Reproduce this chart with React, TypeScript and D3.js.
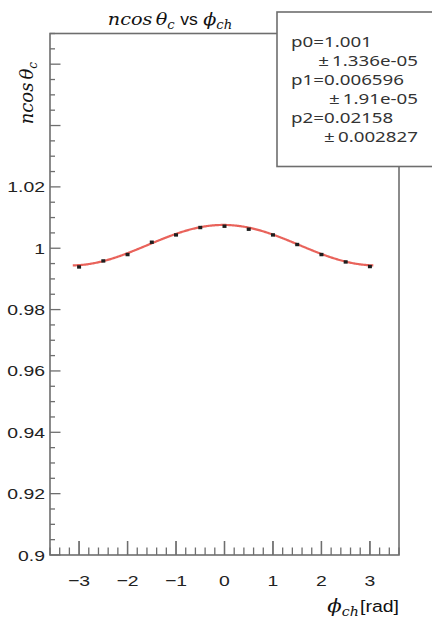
import React from "react";
import * as d3 from "d3";

// ---- data ----
const phiValues = [-3, -2.5, -2, -1.5, -1, -0.5, 0, 0.5, 1, 1.5, 2, 2.5, 3];
const ncosValues = [
  0.9939, 0.99586, 0.99794, 1.00196, 1.00434, 1.00675, 1.00718, 1.0062,
  1.00434, 1.00121, 0.99794, 0.99553, 0.99403,
];
const xTickValues = [-3, -2, -1, 0, 1, 2, 3];
const xTickLabels = ["\u22123", "\u22122", "\u22121", "0", "1", "2", "3"];
const yTickValues = [0.9, 0.92, 0.94, 0.96, 0.98, 1.0, 1.02, 1.04, 1.06];
const yTickLabels = ["0.9", "0.92", "0.94", "0.96", "0.98", "1", "1.02", "", ""];
const fitParams = [1.001, 0.006596, 0.02158];
const statLines = [
  { text: "p0=1.001", right: false },
  { text: "\u00b1\u20091.336e-05", right: true },
  { text: "p1=0.006596", right: false },
  { text: "\u00b1\u20091.91e-05", right: true },
  { text: "p2=0.02158", right: false },
  { text: "\u00b1\u20090.002827", right: true },
];
const xDomain: [number, number] = [-3.6, 3.6];
const yDomain: [number, number] = [0.9, 1.07];
const fitRange: [number, number] = [-3.13, 3.08];

const W = 432;
const H = 624;
const L = 50;
const R = 399;
const T = 33.5;
const B = 555;
const SX = 1.25; // horizontal stretch seen in the reference text

export default function App() {
  const x = d3.scaleLinear().domain(xDomain).range([L, R]);
  const y = d3.scaleLinear().domain(yDomain).range([B, T]);

  const xMinor = d3.range(-3.6, 3.6001, 0.2).map((v) => +v.toFixed(2));
  const yMinor = d3.range(0.9, 1.0701, 0.005).map((v) => +v.toFixed(3));

  const fitX = d3.range(fitRange[0], fitRange[1] + 1e-9, 0.02);
  const fitLine = d3
    .line<number>()
    .x((v) => x(v))
    .y((v) => y(fitParams[0] + fitParams[1] * Math.cos(v + fitParams[2])))
    .curve(d3.curveLinear)(fitX);

  const axisColor = "#6e6e6e";
  const labelFont = "'Liberation Sans', Arial, sans-serif";
  const serif = "'DejaVu Serif', 'Liberation Serif', serif";

  return (
    <svg
      width={W}
      height={H}
      style={{ position: "absolute", left: 0, top: 0, background: "#fff" }}
    >
      <rect x={0} y={0} width={W} height={H} fill="#fff" />
      {/* frame */}
      <rect
        x={L}
        y={T}
        width={R - L}
        height={B - T}
        fill="none"
        stroke={axisColor}
        strokeWidth={1.6}
      />
      {/* x ticks */}
      {xMinor.map((v, i) => {
        const major = xTickValues.some((t) => Math.abs(t - v) < 1e-6);
        const len = major ? 14 : 7.5;
        return (
          <line
            key={"xm" + i}
            x1={x(v)}
            x2={x(v)}
            y1={B}
            y2={B - len}
            stroke={axisColor}
            strokeWidth={1.3}
          />
        );
      })}
      {xTickValues.map((v, i) => (
        <line
          key={"xM" + i}
          x1={x(v)}
          x2={x(v)}
          y1={B}
          y2={B - 14}
          stroke={axisColor}
          strokeWidth={1.3}
        />
      ))}
      {/* y ticks */}
      {yMinor.map((v, i) => {
        const major = yTickValues.some((t) => Math.abs(t - v) < 1e-6);
        const len = major ? 10.5 : 5;
        return (
          <line
            key={"ym" + i}
            x1={L}
            x2={L + len}
            y1={y(v)}
            y2={y(v)}
            stroke={axisColor}
            strokeWidth={1.3}
          />
        );
      })}
      {/* x tick labels */}
      {xTickValues.map((v, i) => (
        <text
          key={"xl" + i}
          transform={`translate(${x(v)},${586}) scale(${SX},1)`}
          textAnchor="middle"
          fontFamily={labelFont}
          fontSize={15.5}
          fill="#222"
        >
          {xTickLabels[i]}
        </text>
      ))}
      {/* y tick labels */}
      {yTickValues.map((v, i) =>
        yTickLabels[i] ? (
          <text
            key={"yl" + i}
            transform={`translate(${45},${y(v) + 5.5}) scale(${SX},1)`}
            textAnchor="end"
            fontFamily={labelFont}
            fontSize={15.5}
            fill="#222"
          >
            {yTickLabels[i]}
          </text>
        ) : null
      )}
      {/* fit curve */}
      <path d={fitLine || ""} fill="none" stroke="#e5483e" strokeWidth={2.2} strokeOpacity={0.85} />
      {/* data points */}
      {phiValues.map((p, i) => (
        <rect
          key={"pt" + i}
          x={x(p) - 2}
          y={y(ncosValues[i]) - 1.7}
          width={4}
          height={3.4}
          fill="#1e1e1e"
        />
      ))}
      {/* title */}
      <text
        transform={`translate(170,25) scale(1.1,1)`}
        textAnchor="middle"
        fill="#111"
      >
        <tspan fontFamily={serif} fontStyle="italic" fontSize={17.5}>
          ncos
        </tspan>
        <tspan fontFamily={serif} fontStyle="italic" fontSize={17.5} dx={3}>
          θ
        </tspan>
        <tspan fontFamily={serif} fontStyle="italic" fontSize={12} dy={4}>
          c
        </tspan>
        <tspan fontFamily={labelFont} fontSize={16} dy={-4} dx={5}>
          vs
        </tspan>
        <tspan fontFamily={serif} fontStyle="italic" fontSize={17.5} dx={5}>
          ϕ
        </tspan>
        <tspan fontFamily={serif} fontStyle="italic" fontSize={12} dy={4}>
          ch
        </tspan>
      </text>
      {/* y axis title */}
      <text
        transform={`translate(${33},${62}) rotate(-90)`}
        textAnchor="end"
        fill="#111"
      >
        <tspan fontFamily={serif} fontStyle="italic" fontSize={18}>
          ncos
        </tspan>
        <tspan fontFamily={serif} fontStyle="italic" fontSize={18} dx={3}>
          θ
        </tspan>
        <tspan fontFamily={serif} fontStyle="italic" fontSize={12} dy={4}>
          c
        </tspan>
      </text>
      {/* x axis title */}
      <text
        transform={`translate(399,612) scale(1.18,1)`}
        textAnchor="end"
        fill="#111"
      >
        <tspan fontFamily={serif} fontStyle="italic" fontSize={18}>
          ϕ
        </tspan>
        <tspan fontFamily={serif} fontStyle="italic" fontSize={12} dy={4}>
          ch
        </tspan>
        <tspan fontFamily={labelFont} fontSize={16.5} dy={-4} dx={1}>
          [rad]
        </tspan>
      </text>
      {/* stats box */}
      <rect
        x={277}
        y={12}
        width={170}
        height={154.5}
        fill="#fff"
        stroke={axisColor}
        strokeWidth={1.6}
      />
      {statLines.map((s, i) => (
        <text
          key={"st" + i}
          transform={`translate(${s.right ? 418 : 291},${47 + i * 19}) scale(${SX},1)`}
          textAnchor={s.right ? "end" : "start"}
          fontFamily="'Noto Sans', sans-serif"
          fontSize={15}
          fill="#333"
        >
          {s.text}
        </text>
      ))}
    </svg>
  );
}
